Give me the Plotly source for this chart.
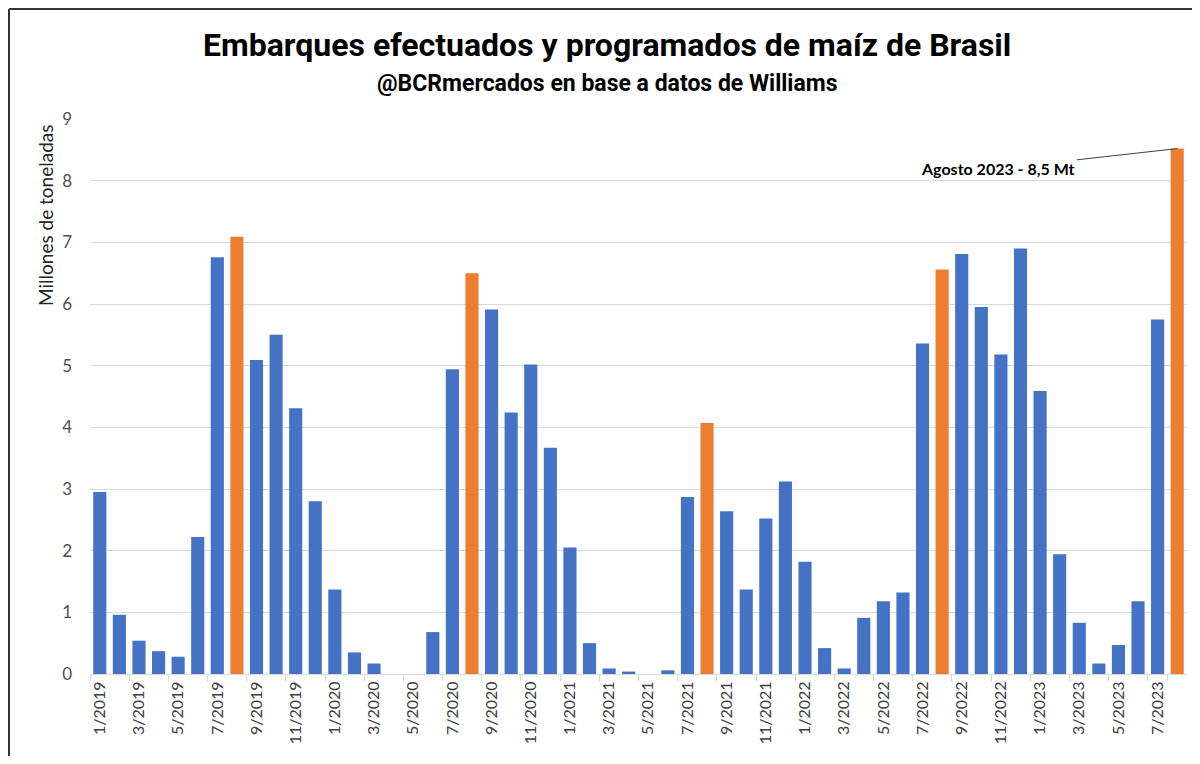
import plotly.graph_objects as go

months = [f"{m}/{y}" for y in range(2019, 2024) for m in range(1, 13)][:56]
values = [
    2.95, 0.96, 0.54, 0.37, 0.28, 2.22, 6.76, 7.09, 5.09, 5.50, 4.31, 2.80,
    1.37, 0.35, 0.17, 0.0, 0.0, 0.68, 4.94, 6.50, 5.91, 4.24, 5.02, 3.67,
    2.05, 0.50, 0.09, 0.04, 0.0, 0.06, 2.87, 4.07, 2.64, 1.37, 2.52, 3.12,
    1.82, 0.42, 0.09, 0.91, 1.18, 1.32, 5.36, 6.56, 6.81, 5.95, 5.18, 6.90,
    4.59, 1.94, 0.83, 0.17, 0.47, 1.18, 5.75, 8.52,
]
programados = ["8/2019", "8/2020", "8/2021", "8/2022", "8/2023"]
tick_labels = months[::2]
y_ticks = list(range(0, 10))

BLUE = "#4472C4"
ORANGE = "#ED7D31"
colors = [ORANGE if m in programados else BLUE for m in months]

# page has an 8px body margin; work in reference-pixel coords and shift
OFF = 8
W, H = 1200 - 2 * OFF, 764 - 2 * OFF
PL, PR, PT, PB = 90, 1187, 119, 674  # plot area in reference pixels
L = PL - OFF
T = PT - OFF
R = W - (PR - OFF)
B = H - (PB - OFF)
pw, ph = PR - PL, PB - PT


def px(x):
    return (x - PL) / pw


def py(y):
    return (PB - y) / ph


TITLE_FONT = "Roboto, sans-serif"

fig = go.Figure()
fig.add_trace(go.Bar(x=months, y=values, marker=dict(color=colors, line=dict(width=0)),
                     showlegend=False))

fig.update_layout(
    width=W, height=H,
    margin=dict(l=L, r=R, t=T, b=B, autoexpand=False),
    paper_bgcolor="white", plot_bgcolor="white",
    bargap=0.33,
    font=dict(family="Lato", color="#595959"),
    xaxis=dict(
        type="category", categoryorder="array", categoryarray=months,
        tickmode="array", tickvals=tick_labels, ticktext=tick_labels,
        tickangle=-90, tickfont=dict(size=16, color="#404040", family="Lato"),
        showgrid=False, showline=True, linecolor="#d9d9d9", linewidth=1,
        ticks="outside", tickson="boundaries", ticklen=6, tickcolor="#d9d9d9",
        range=[-0.5, len(months) - 0.5],
    ),
    yaxis=dict(
        range=[0, 9], tickvals=y_ticks, showgrid=True, gridcolor="#d9d9d9", gridwidth=1,
        zeroline=False, tickfont=dict(size=17, color="#505050", family="Lato"),
        ticks="", ticklabelstandoff=17,
    ),
)

fig.add_annotation(
    text="<b>Embarques efectuados y programados de maíz de Brasil</b>",
    xref="paper", yref="paper", x=px(607), y=py(45), showarrow=False,
    font=dict(family=TITLE_FONT, size=32, color="black"),
    xanchor="center", yanchor="middle",
)
fig.add_annotation(
    text="<b>@BCRmercados en base a datos de Williams</b>",
    xref="paper", yref="paper", x=px(607), y=py(83), showarrow=False,
    font=dict(family=TITLE_FONT, size=23, color="black"),
    xanchor="center", yanchor="middle",
)
fig.add_annotation(
    text="Millones de toneladas",
    xref="paper", yref="paper", x=px(45), y=py(216), showarrow=False,
    textangle=-90, font=dict(family="Lato", size=19, color="#262626"),
    xanchor="center", yanchor="middle",
)
fig.add_annotation(
    text="<b>Agosto 2023 - 8,5 Mt</b>",
    x=months[-1], y=values[-1], xref="x", yref="y",
    showarrow=True, arrowhead=0, arrowwidth=1, arrowcolor="#404040",
    ax=-179, ay=20, standoff=0,
    font=dict(family="Lato", size=16, color="black"),
)
# frame lines (top and left only), just inside the figure edge
fig.add_shape(type="line", xref="paper", yref="paper",
              x0=px(OFF + 1), x1=px(1200), y0=py(OFF + 1), y1=py(OFF + 1),
              line=dict(color="#333333", width=2))
fig.add_shape(type="line", xref="paper", yref="paper",
              x0=px(OFF + 1), x1=px(OFF + 1), y0=py(OFF + 1), y1=py(770),
              line=dict(color="#333333", width=2))

fig.write_html("out.html")
